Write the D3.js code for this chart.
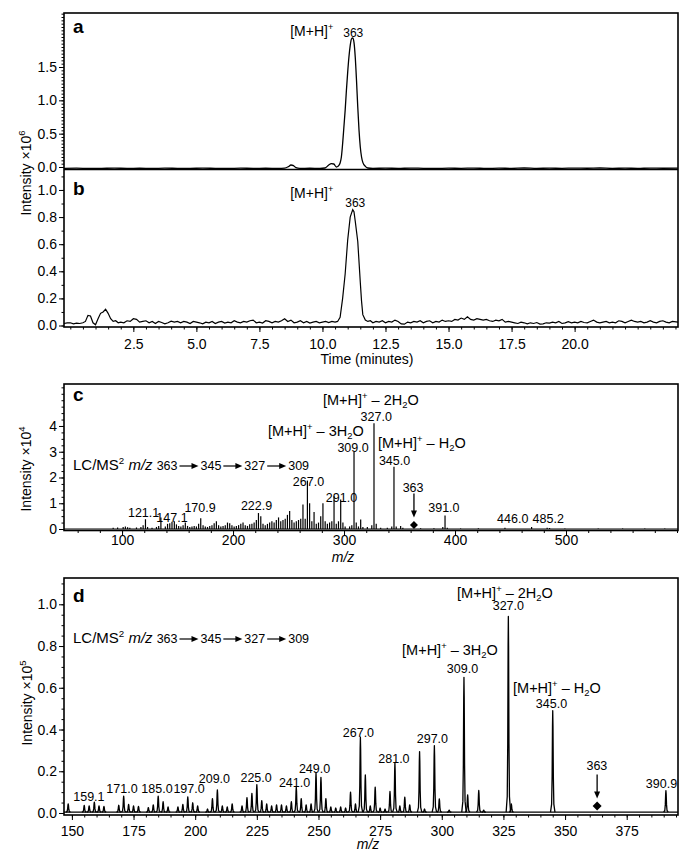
<!DOCTYPE html>
<html>
<head>
<meta charset="utf-8">
<script src="https://cdn.jsdelivr.net/npm/d3@7"></script>
<style>
  body { margin: 0; background: #fff; }
  svg text { font-family: "Liberation Sans", Arial, Helvetica, sans-serif; fill: #000; }
</style>
</head>
<body>
<svg width="692" height="863"></svg>
<script>
// ---- data ----
// chromatogram a: [time (min), intensity x10^6]
const chromA = [
  [-0.25,-0.02],[0.25,-0.018],[0.75,-0.022],[1.25,-0.02],[1.75,-0.017],[2.25,-0.021],[2.75,-0.019],
  [3.25,-0.022],[3.75,-0.018],[4.25,-0.02],[4.75,-0.021],[5.25,-0.017],[5.75,-0.02],[6.25,-0.022],
  [6.75,-0.018],[7.25,-0.02],[7.75,-0.019],[8.25,-0.021],[8.5,-0.018],[8.65,0.005],[8.75,0.03],
  [8.85,0.02],[8.95,-0.01],[9.1,-0.02],[9.5,-0.019],[9.9,-0.021],[10.1,-0.015],[10.25,0.03],
  [10.35,0.05],[10.45,0.045],[10.55,0.0],[10.62,0.01],[10.7,0.06],[10.75,0.15],[10.8,0.35],
  [10.85,0.6],[10.9,0.85],[10.95,1.15],[11.0,1.42],[11.05,1.65],[11.1,1.82],[11.15,1.92],
  [11.2,1.935],[11.25,1.87],[11.3,1.65],[11.35,1.3],[11.4,0.9],[11.45,0.55],[11.5,0.3],
  [11.55,0.15],[11.6,0.07],[11.7,0.01],[11.8,-0.015],[12.0,-0.02],[12.5,-0.017],[13,-0.021],
  [13.5,-0.016],[14,-0.02],[14.5,-0.022],[15,-0.017],[15.5,-0.02],[16,-0.016],[16.5,-0.021],
  [17,-0.018],[17.5,-0.02],[18,-0.015],[18.5,-0.021],[19,-0.017],[19.5,-0.02],[20,-0.016],
  [20.5,-0.019],[21,-0.015],[21.5,-0.02],[22,-0.017],[22.5,-0.021],[23,-0.016],[23.5,-0.019],[24.1,-0.017]
];

// chromatogram b: [time (min), intensity x10^6]
const chromB = [
  [-0.25,0.015],[-0.125,0.02],[0,0.02],[0.125,0.012],[0.25,0.018],[0.375,0.015],[0.5,0.02],[0.6,0.03],
  [0.7,0.075],[0.8,0.07],[0.9,0.02],[1.0,0.005],[1.1,0.05],[1.2,0.09],[1.3,0.1],[1.4,0.12],[1.5,0.09],
  [1.6,0.05],[1.7,0.03],[1.8,0.035],[1.9,0.02],[2.0,0.025],[2.125,0.02],[2.25,0.035],[2.375,0.03],
  [2.5,0.05],[2.625,0.045],[2.75,0.025],[2.875,0.03],[3.0,0.035],[3.125,0.02],[3.25,0.03],[3.375,0.015],
  [3.5,0.03],[3.625,0.022],[3.75,0.012],[3.875,0.02],[4.0,0.032],[4.125,0.025],[4.25,0.03],[4.375,0.02],
  [4.5,0.03],[4.625,0.025],[4.75,0.015],[4.875,0.03],[5.0,0.025],[5.125,0.02],[5.25,0.012],[5.375,0.025],
  [5.5,0.02],[5.625,0.03],[5.75,0.015],[5.875,0.025],[6.0,0.03],[6.125,0.018],[6.25,0.025],[6.375,0.02],
  [6.5,0.035],[6.625,0.025],[6.75,0.02],[6.875,0.03],[7.0,0.025],[7.125,0.035],[7.25,0.04],[7.375,0.02],
  [7.5,0.025],[7.625,0.018],[7.75,0.035],[7.875,0.03],[8.0,0.02],[8.125,0.03],[8.25,0.025],[8.375,0.035],
  [8.5,0.05],[8.625,0.03],[8.75,0.04],[8.875,0.02],[9.0,0.025],[9.125,0.035],[9.25,0.02],[9.375,0.03],
  [9.5,0.018],[9.625,0.025],[9.75,0.03],[9.875,0.02],[10.0,0.025],[10.125,0.03],[10.25,0.022],
  [10.375,0.03],[10.5,0.025],[10.6,0.03],[10.7,0.06],[10.8,0.2],[10.9,0.38],[11.0,0.63],[11.1,0.8],
  [11.2,0.855],[11.25,0.84],[11.3,0.77],[11.4,0.62],[11.5,0.32],[11.55,0.18],[11.6,0.08],[11.7,0.04],
  [11.8,0.03],[11.9,0.035],[12.0,0.02],[12.125,0.03],[12.25,0.025],[12.375,0.035],[12.5,0.02],
  [12.625,0.03],[12.75,0.025],[12.875,0.04],[13.0,0.03],[13.125,0.012],[13.25,0.01],[13.375,0.025],
  [13.5,0.02],[13.625,0.03],[13.75,0.025],[13.875,0.035],[14.0,0.02],[14.125,0.03],[14.25,0.035],
  [14.375,0.02],[14.5,0.03],[14.625,0.025],[14.75,0.04],[14.875,0.03],[15.0,0.035],[15.125,0.03],
  [15.25,0.045],[15.375,0.04],[15.5,0.055],[15.625,0.045],[15.75,0.065],[15.875,0.045],[16.0,0.04],
  [16.125,0.05],[16.25,0.045],[16.375,0.04],[16.5,0.045],[16.625,0.035],[16.75,0.03],[16.875,0.04],
  [17.0,0.035],[17.125,0.045],[17.25,0.025],[17.375,0.03],[17.5,0.025],[17.625,0.02],[17.75,0.015],
  [17.875,0.025],[18.0,0.02],[18.125,0.012],[18.25,0.02],[18.375,0.015],[18.5,0.022],[18.625,0.01],
  [18.75,0.012],[18.875,0.02],[19.0,0.018],[19.125,0.025],[19.25,0.02],[19.375,0.03],[19.5,0.015],
  [19.625,0.02],[19.75,0.028],[19.875,0.02],[20.0,0.025],[20.125,0.02],[20.25,0.03],[20.375,0.022],
  [20.5,0.02],[20.625,0.03],[20.75,0.04],[20.875,0.025],[21.0,0.02],[21.125,0.025],[21.25,0.03],
  [21.375,0.02],[21.5,0.025],[21.625,0.02],[21.75,0.035],[21.875,0.03],[22.0,0.02],[22.125,0.03],
  [22.25,0.04],[22.375,0.03],[22.5,0.025],[22.625,0.03],[22.75,0.02],[22.875,0.025],[23.0,0.035],
  [23.125,0.025],[23.25,0.02],[23.375,0.03],[23.5,0.035],[23.625,0.025],[23.75,0.02],[23.875,0.03],
  [24.1,0.025]
];

// spectrum c (centroid sticks): [m/z, intensity x10^4]
const spectrumC = [
  [92,0.05],[96,0.06],[101,0.08],[103,0.1],[105,0.07],[107,0.05],[113,0.06],[117,0.08],[119,0.15],
  [121.1,0.38],[123,0.08],[127,0.05],[131,0.08],[133,0.12],[135,0.45],[139,0.1],[141,0.2],[143,0.22],
  [145,0.28],[147.1,0.3],[149,0.18],[151,0.12],[153,0.1],[155,0.15],[157,0.25],[159,0.12],[161,0.08],
  [163,0.1],[165,0.12],[167,0.1],[169,0.2],[170.9,0.42],[173,0.15],[175,0.1],[177,0.08],[179,0.12],
  [181,0.15],[183,0.22],[185,0.3],[187,0.15],[189,0.1],[191,0.12],[193,0.15],[195,0.25],[197,0.22],
  [199,0.15],[201,0.1],[203,0.12],[205,0.15],[207,0.2],[209,0.25],[211,0.15],[213,0.12],[215,0.18],
  [217,0.2],[219,0.25],[221,0.35],[222.9,0.62],[225,0.5],[227,0.2],[229,0.15],[231,0.2],[233,0.25],
  [235,0.3],[237,0.25],[239,0.35],[241,0.45],[243,0.3],[245,0.35],[247,0.4],[249,0.55],[251,0.7],
  [253,0.35],[255,0.25],[257,0.3],[259,0.35],[261,0.4],[263,0.95],[265,0.4],[267,1.88],[269,1.0],
  [271,0.3],[273,0.66],[275,0.2],[277,0.25],[279,0.5],[281,1.0],[283,0.3],[285,0.2],[287,0.25],
  [289,0.3],[291,1.27],[293,0.2],[295,0.3],[297,1.15],[299,0.25],[301,0.1],[305,0.1],[307,0.15],
  [309,3.0],[311,0.25],[313,0.1],[315,0.37],[317,0.08],[321,0.08],[325,0.15],[327,4.11],[329,0.2],
  [333,0.05],[339,0.05],[343,0.1],[345,2.42],[347,0.1],[351,0.12],[353,0.05],[369,0.03],[381,0.03],
  [389,0.08],[391,0.52],[393,0.05],[405,0.02],[421,0.03],[445,0.05],[469,0.08],[483,0.05],
  [485.2,0.04],[499,0.02],[529,0.02],[551,0.02],[571,0.02],[589,0.02]
];

// spectrum d (profile peaks): [m/z, intensity x10^5]
const spectrumD = [
  [148.5,0.04],[155,0.032],[157,0.03],[159.1,0.048],[161,0.03],[163,0.028],[169,0.033],[171,0.077],
  [173,0.037],[175,0.03],[177,0.028],[181,0.022],[183,0.035],[185,0.077],[187,0.05],[189,0.025],
  [193,0.025],[195,0.037],[197,0.073],[199,0.045],[201,0.03],[205,0.015],[207,0.065],[209,0.107],
  [211,0.03],[213,0.025],[215,0.04],[219,0.03],[221,0.07],[223,0.09],[225,0.132],[227,0.055],
  [229,0.04],[231,0.03],[233,0.035],[235,0.035],[237,0.03],[239,0.05],[241,0.12],[243,0.065],
  [245,0.035],[247,0.04],[249,0.188],[251,0.167],[253,0.065],[255,0.025],[257,0.02],[259,0.025],
  [261,0.02],[263,0.096],[265,0.04],[267,0.359],[269,0.178],[271,0.03],[273,0.12],[275,0.02],
  [277,0.015],[279,0.099],[281,0.236],[283,0.03],[285,0.072],[287,0.035],[291,0.29],[293,0.015],
  [297,0.319],[299,0.064],[303,0.01],[309,0.646],[310.5,0.083],[315,0.104],[317,0.01],[327,0.938],
  [328.2,0.04],[345,0.486],[390.9,0.103]
];

// tick labels
const ticksTime = [2.5, 5, 7.5, 10, 12.5, 15, 17.5, 20];
const ticksA = [0, 0.5, 1.0, 1.5];
const ticksB = [0, 0.2, 0.4, 0.6, 0.8, 1.0];
const ticksCx = [100, 200, 300, 400, 500];
const ticksCy = [0, 1, 2, 3, 4];
const ticksDx = [150, 175, 200, 225, 250, 275, 300, 325, 350, 375];
const ticksDy = [0, 0.2, 0.4, 0.6, 0.8, 1.0];

// peak labels: [text, m/z anchor, intensity anchor]
const peakLabelsC = [
  ["121.1",119.4,0.48],["147.1",145,0.27],["170.9",170.3,0.66],["222.9",221.2,0.74],
  ["267.0",268,1.67],["291.0",297.7,1.06],["309.0",308.1,3.0],["327.0",329,4.21],
  ["345.0",345.5,2.49],["391.0",390,0.66],["446.0",452,0.23],["485.2",484,0.23]
];
const peakLabelsD = [
  ["159.1",156.9,0.059],["171.0",170.3,0.096],["185.0",184.5,0.096],["197.0",197.5,0.096],
  ["209.0",207.8,0.144],["225.0",224.7,0.15],["241.0",240.3,0.125],["249.0",248.4,0.192],
  ["267.0",266.2,0.366],["281.0",280.6,0.24],["297.0",296.2,0.337],["309.0",308.4,0.671],
  ["327.0",327.0,0.973],["345.0",344.5,0.503],["390.9",389.1,0.12]
];
// ion annotations: [water loss text, m/z of left edge, intensity of baseline]
const ionLabelsC = [["2H", 281, 4.8], ["3H", 231.5, 3.6], ["H", 330.6, 3.15]];
const ionLabelsD = [["2H", 306.2, 1.032], ["3H", 283.9, 0.757], ["H", 328.9, 0.575]];
const chainNums = ["363", "345", "327", "309"];

// ---- layout ----
const svg = d3.select("svg");
const L = 64, R = 678;

const xT = d3.scaleLinear().domain([-0.25, 24.1]).range([L, R]);
const yA = d3.scaleLinear().domain([-0.0375, 2.31]).range([169.5, 13]);
const yB = d3.scaleLinear().domain([-0.011, 1.151]).range([327, 169.5]);
const xC = d3.scaleLinear().domain([47.7, 600.9]).range([L, R]);
const yC = d3.scaleLinear().domain([-0.058, 5.63]).range([530.5, 384]);
const xD = d3.scaleLinear().domain([146.8, 395.8]).range([L, R]);
const yD = d3.scaleLinear().domain([-0.0096, 1.126]).range([815, 578]);

function styleAxis(g, size) {
  g.select(".domain").remove();
  g.selectAll("line").attr("stroke", "#000").attr("stroke-width", 1);
  g.selectAll("text").style("font-size", size + "px").attr("fill", "#000");
}

function yAxis(scale, ticks, minorStep, fmt) {
  const d = scale.domain();
  const minor = d3.range(Math.ceil(d[0] / minorStep) * minorStep, d[1], minorStep);
  svg.append("g").attr("transform", `translate(${L},0)`)
    .call(d3.axisLeft(scale).tickValues(minor).tickSize(2.5).tickFormat(""))
    .call(g => styleAxis(g, 14));
  svg.append("g").attr("transform", `translate(${L},0)`)
    .call(d3.axisLeft(scale).tickValues(ticks).tickSize(5).tickPadding(2).tickFormat(fmt))
    .call(g => styleAxis(g, 14));
}

function xAxis(scale, y, ticks, minorStep, fmt, pad) {
  const d = scale.domain();
  const minor = d3.range(Math.ceil(d[0] / minorStep) * minorStep, d[1], minorStep);
  svg.append("g").attr("transform", `translate(0,${y})`)
    .call(d3.axisBottom(scale).tickValues(minor).tickSize(2.5).tickFormat(""))
    .call(g => styleAxis(g, 14));
  svg.append("g").attr("transform", `translate(0,${y})`)
    .call(d3.axisBottom(scale).tickValues(ticks).tickSize(5).tickPadding(pad).tickFormat(fmt))
    .call(g => styleAxis(g, 14));
}

function frame(top, bottom) {
  svg.append("rect").attr("x", L).attr("y", top)
    .attr("width", R - L).attr("height", bottom - top)
    .attr("fill", "none").attr("stroke", "#000").attr("stroke-width", 1.6);
}

// rich text with superscripts, subscripts and italics
function richText(g, x, y, parts, size) {
  const t = g.append("text").attr("x", x).attr("y", y).style("font-size", size + "px");
  let off = 0;
  parts.forEach(([s, k]) => {
    const target = k === "sup" ? -0.42 * size : k === "sub" ? 0.2 * size : 0;
    const sp = t.append("tspan").attr("dy", target - off).text(s);
    if (k === "sup" || k === "sub") sp.style("font-size", (0.65 * size) + "px");
    if (k === "it") sp.style("font-style", "italic");
    off = target;
  });
  return t;
}

function ionLabel(g, x, y, n) {
  return richText(g, x, y, [["[M+H]", ""], ["+", "sup"], [" \u2013 " + n, ""], ["2", "sub"], ["O", ""]], 14.5);
}

function rightArrow(g, x1, x2, y) {
  g.append("line").attr("x1", x1).attr("x2", x2 - 5).attr("y1", y).attr("y2", y)
    .attr("stroke", "#000").attr("stroke-width", 1.2);
  g.append("path").attr("d", `M${x2},${y}L${x2 - 7},${y - 3}L${x2 - 7},${y + 3}Z`).attr("fill", "#000");
}

function downArrow(g, x, y1, y2) {
  g.append("line").attr("x1", x).attr("x2", x).attr("y1", y1).attr("y2", y2 - 5)
    .attr("stroke", "#000").attr("stroke-width", 1.3);
  g.append("path").attr("d", `M${x},${y2}L${x - 3},${y2 - 7}L${x + 3},${y2 - 7}Z`).attr("fill", "#000");
}

function msChain(g, x, y) {
  const head = richText(g, x, y, [["LC/MS", ""], ["2", "sup"], [" ", ""], ["m/z", "it"]], 15);
  let cx = x + head.node().getComputedTextLength() + 4;
  chainNums.forEach((n, i) => {
    const t = g.append("text").attr("x", cx).attr("y", y).style("font-size", "12.5px").text(n);
    cx += t.node().getComputedTextLength();
    if (i < chainNums.length - 1) {
      rightArrow(g, cx + 2, cx + 21, y - 4);
      cx += 23;
    }
  });
}

function diamond(g, x, y, s) {
  g.append("path").attr("d", `M${x},${y - s}L${x + s},${y}L${x},${y + s}L${x - s},${y}Z`).attr("fill", "#000");
}

function panelLetter(t, y) {
  svg.append("text").attr("x", 73).attr("y", y).style("font-size", "19px")
    .style("font-weight", "bold").text(t);
}

function yTitle(x, y, exp) {
  const t = svg.append("text").attr("transform", `translate(${x},${y}) rotate(-90)`)
    .attr("text-anchor", "middle").style("font-size", "14px");
  t.append("tspan").text("Intensity \u00d710");
  t.append("tspan").attr("dy", -6).style("font-size", "9.5px").text(exp);
}

// ---- panels a and b (chromatograms) ----
const lineA = d3.line().x(d => xT(d[0])).y(d => yA(d[1])).curve(d3.curveMonotoneX);
const lineB = d3.line().x(d => xT(d[0])).y(d => yB(d[1])).curve(d3.curveLinear);

svg.append("path").datum(chromA).attr("d", lineA)
  .attr("fill", "none").attr("stroke", "#000").attr("stroke-width", 1.3);
svg.append("path").datum(chromB).attr("d", lineB)
  .attr("fill", "none").attr("stroke", "#000").attr("stroke-width", 1.2);

frame(13, 327);
svg.append("line").attr("x1", L).attr("x2", R).attr("y1", 169.5).attr("y2", 169.5)
  .attr("stroke", "#000").attr("stroke-width", 1.6);

yAxis(yA, ticksA, 0.05, d3.format(".1f"));
yAxis(yB, ticksB, 0.1, d3.format(".1f"));
xAxis(xT, 327, ticksTime, 0.5, d3.format(".1f"), 7);

panelLetter("a", 33);
panelLetter("b", 195);

const gA = svg.append("g");
richText(gA, xT(8.72), yA(1.965), [["[M+H]", ""], ["+", "sup"]], 14);
gA.append("text").attr("x", xT(11.22)).attr("y", yA(1.95)).attr("text-anchor", "middle")
  .style("font-size", "12px").text("363");
richText(gA, xT(8.72), yB(0.941), [["[M+H]", ""], ["+", "sup"]], 14);
gA.append("text").attr("x", xT(11.3)).attr("y", yB(0.878)).attr("text-anchor", "middle")
  .style("font-size", "12px").text("363");

svg.append("text").attr("x", 367).attr("y", 364).attr("text-anchor", "middle")
  .style("font-size", "14px").text("Time (minutes)");
yTitle(31, 173, "6");

// ---- panel c (stick spectrum) ----
const gC = svg.append("g");
gC.selectAll("line.stick").data(spectrumC).join("line").attr("class", "stick")
  .attr("x1", d => xC(d[0])).attr("x2", d => xC(d[0]))
  .attr("y1", yC(0)).attr("y2", d => yC(d[1]))
  .attr("stroke", "#000").attr("stroke-width", 1.2);
gC.append("line").attr("x1", L).attr("x2", R).attr("y1", yC(0)).attr("y2", yC(0))
  .attr("stroke", "#000").attr("stroke-width", 1);

frame(384, 530.5);
yAxis(yC, ticksCy, 0.25, d3.format("d"));
xAxis(xC, 530.5, ticksCx, 20, d3.format("d"), 0);
panelLetter("c", 401);

gC.selectAll("text.pk").data(peakLabelsC).join("text").attr("class", "pk")
  .attr("x", d => xC(d[1])).attr("y", d => yC(d[2])).attr("text-anchor", "middle")
  .style("font-size", "12.5px").text(d => d[0]);
ionLabelsC.forEach(d => ionLabel(gC, xC(d[1]), yC(d[2]), d[0]));
msChain(gC, 73, 470);
gC.append("text").attr("x", xC(362.2)).attr("y", yC(1.44)).attr("text-anchor", "middle")
  .style("font-size", "12.5px").text("363");
downArrow(gC, xC(363), yC(1.38), yC(0.45));
diamond(gC, xC(363), yC(0.16), 4);
richText(svg, 343, 562, [["m/z", "it"]], 14).attr("text-anchor", "middle");
yTitle(31, 469, "4");

// ---- panel d (profile spectrum) ----
const gD = svg.append("g");
const peakShape = [[-0.9, 0], [-0.45, 0.08], [-0.25, 0.35], [-0.1, 0.85], [0, 1],
                   [0.1, 0.85], [0.25, 0.35], [0.45, 0.08], [0.9, 0]];
const lineD = d3.line().x(d => xD(d[0])).y(d => yD(d[1]));
gD.append("line").attr("x1", L).attr("x2", R).attr("y1", yD(0.004)).attr("y2", yD(0.004))
  .attr("stroke", "#000").attr("stroke-width", 1.3);
gD.selectAll("path.pk").data(spectrumD).join("path").attr("class", "pk")
  .attr("d", p => lineD(peakShape.map(s => [p[0] + s[0], 0.004 + s[1] * p[1]])))
  .attr("fill", "none").attr("stroke", "#000").attr("stroke-width", 1.3)
  .attr("stroke-linejoin", "round");

frame(578, 815);
yAxis(yD, ticksDy, 0.05, d3.format(".1f"));
xAxis(xD, 815, ticksDx, 5, d3.format("d"), 6);
panelLetter("d", 602);

gD.selectAll("text.lb").data(peakLabelsD).join("text").attr("class", "lb")
  .attr("x", d => xD(d[1])).attr("y", d => yD(d[2])).attr("text-anchor", "middle")
  .style("font-size", "12.5px").text(d => d[0]);
ionLabelsD.forEach(d => ionLabel(gD, xD(d[1]), yD(d[2]), d[0]));
msChain(gD, 73, 643);
gD.append("text").attr("x", xD(362.9)).attr("y", yD(0.206)).attr("text-anchor", "middle")
  .style("font-size", "12.5px").text("363");
downArrow(gD, xD(363), yD(0.185), yD(0.07));
diamond(gD, xD(363), yD(0.033), 4.5);
richText(svg, 368, 849, [["m/z", "it"]], 14).attr("text-anchor", "middle");
yTitle(32, 703, "5");
</script>
</body>
</html>
